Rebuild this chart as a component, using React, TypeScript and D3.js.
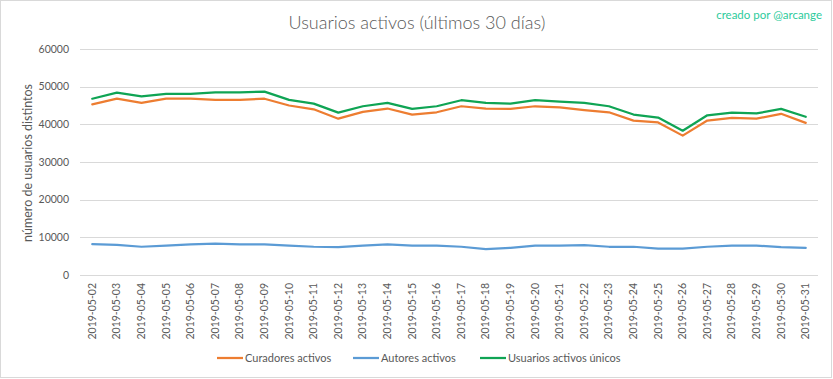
import React from "react";
import * as d3 from "d3";

const dates = [
  "2019-05-02","2019-05-03","2019-05-04","2019-05-05","2019-05-06","2019-05-07","2019-05-08","2019-05-09","2019-05-10","2019-05-11",
  "2019-05-12","2019-05-13","2019-05-14","2019-05-15","2019-05-16","2019-05-17","2019-05-18","2019-05-19","2019-05-20","2019-05-21",
  "2019-05-22","2019-05-23","2019-05-24","2019-05-25","2019-05-26","2019-05-27","2019-05-28","2019-05-29","2019-05-30","2019-05-31",
];
const curadores = [
  45300, 46800, 45700, 46800, 46800, 46500, 46500, 46800, 45000, 44000,
  41500, 43300, 44200, 42600, 43200, 44800, 44200, 44100, 44800, 44500,
  43800, 43200, 41000, 40500, 37000, 41000, 41700, 41500, 42800, 40400,
];
const autores = [
  8200, 8000, 7500, 7800, 8100, 8300, 8100, 8100, 7800, 7500,
  7400, 7800, 8100, 7800, 7800, 7500, 6900, 7200, 7800, 7800,
  7900, 7500, 7500, 7000, 7000, 7500, 7800, 7800, 7400, 7200,
];
const unicos = [
  46800, 48400, 47400, 48100, 48100, 48500, 48500, 48700, 46500, 45500,
  43100, 44800, 45700, 44100, 44800, 46400, 45700, 45500, 46400, 46000,
  45700, 44800, 42600, 41800, 38300, 42400, 43100, 42900, 44100, 42000,
];
const yTicks = [0, 10000, 20000, 30000, 40000, 50000, 60000];
const seriesNames = ["Curadores activos", "Autores activos", "Usuarios activos únicos"];
const seriesColors = ["#ED7D31", "#5B9BD5", "#0FA454"];

const W = 833, H = 379;
const FONT = "Lato, 'Open Sans', sans-serif";
const TXT = "#595959";

export default function App() {
  const x = d3.scaleBand<string>().domain(dates).range([80, 818]);
  const y = d3.scaleLinear().domain([0, 60000]).range([275, 49]);
  const cx = (d: string) => (x(d) as number) + x.bandwidth() / 2;
  const line = d3.line<number>().x((_, i) => cx(dates[i])).y((v) => y(v));
  const series = [curadores, autores, unicos];
  const legendX = [217, 353, 480];

  return (
    <svg width={W} height={H} style={{ position: "absolute", left: 0, top: 0, background: "#fff" }} fontFamily={FONT}>
      <rect x={0.5} y={0.5} width={831} height={377} fill="#fff" stroke="#D9D9D9" />
      <text x={417} y={29} textAnchor="middle" fontSize={18} fontWeight={300} fill={TXT}>
        Usuarios activos (últimos 30 días)
      </text>
      <text x={822} y={19} textAnchor="end" fontSize={11.5} fill="#2DCB9C">creado por @arcange</text>
      {yTicks.map((t) => (
        <g key={t}>
          <line x1={80} x2={818} y1={Math.round(y(t)) + 0.5} y2={Math.round(y(t)) + 0.5} stroke="#D9D9D9" strokeWidth={1} />
          <text x={69} y={y(t)} dy="0.35em" textAnchor="end" fontSize={10.5} fill={TXT}>{t}</text>
        </g>
      ))}
      <text transform={`translate(28,163) rotate(-90)`} textAnchor="middle" dy="0.35em" fontSize={12.5} fill={TXT}>
        número de usuarios distintos
      </text>
      {dates.map((d) => (
        <text key={d} transform={`translate(${cx(d) + 3.5},283) rotate(-90)`} textAnchor="end" fontSize={10.5} fill={TXT}>
          {d}
        </text>
      ))}
      {series.map((s, i) => (
        <path key={i} d={line(s) || ""} fill="none" stroke={seriesColors[i]} strokeWidth={2.25} strokeLinejoin="round" strokeLinecap="round" />
      ))}
      {seriesNames.map((n, i) => (
        <g key={n}>
          <line x1={legendX[i]} x2={legendX[i] + 26} y1={358} y2={358} stroke={seriesColors[i]} strokeWidth={2.25} />
          <text x={legendX[i] + 28} y={358} dy="0.35em" fontSize={11} fill={TXT}>{n}</text>
        </g>
      ))}
    </svg>
  );
}
